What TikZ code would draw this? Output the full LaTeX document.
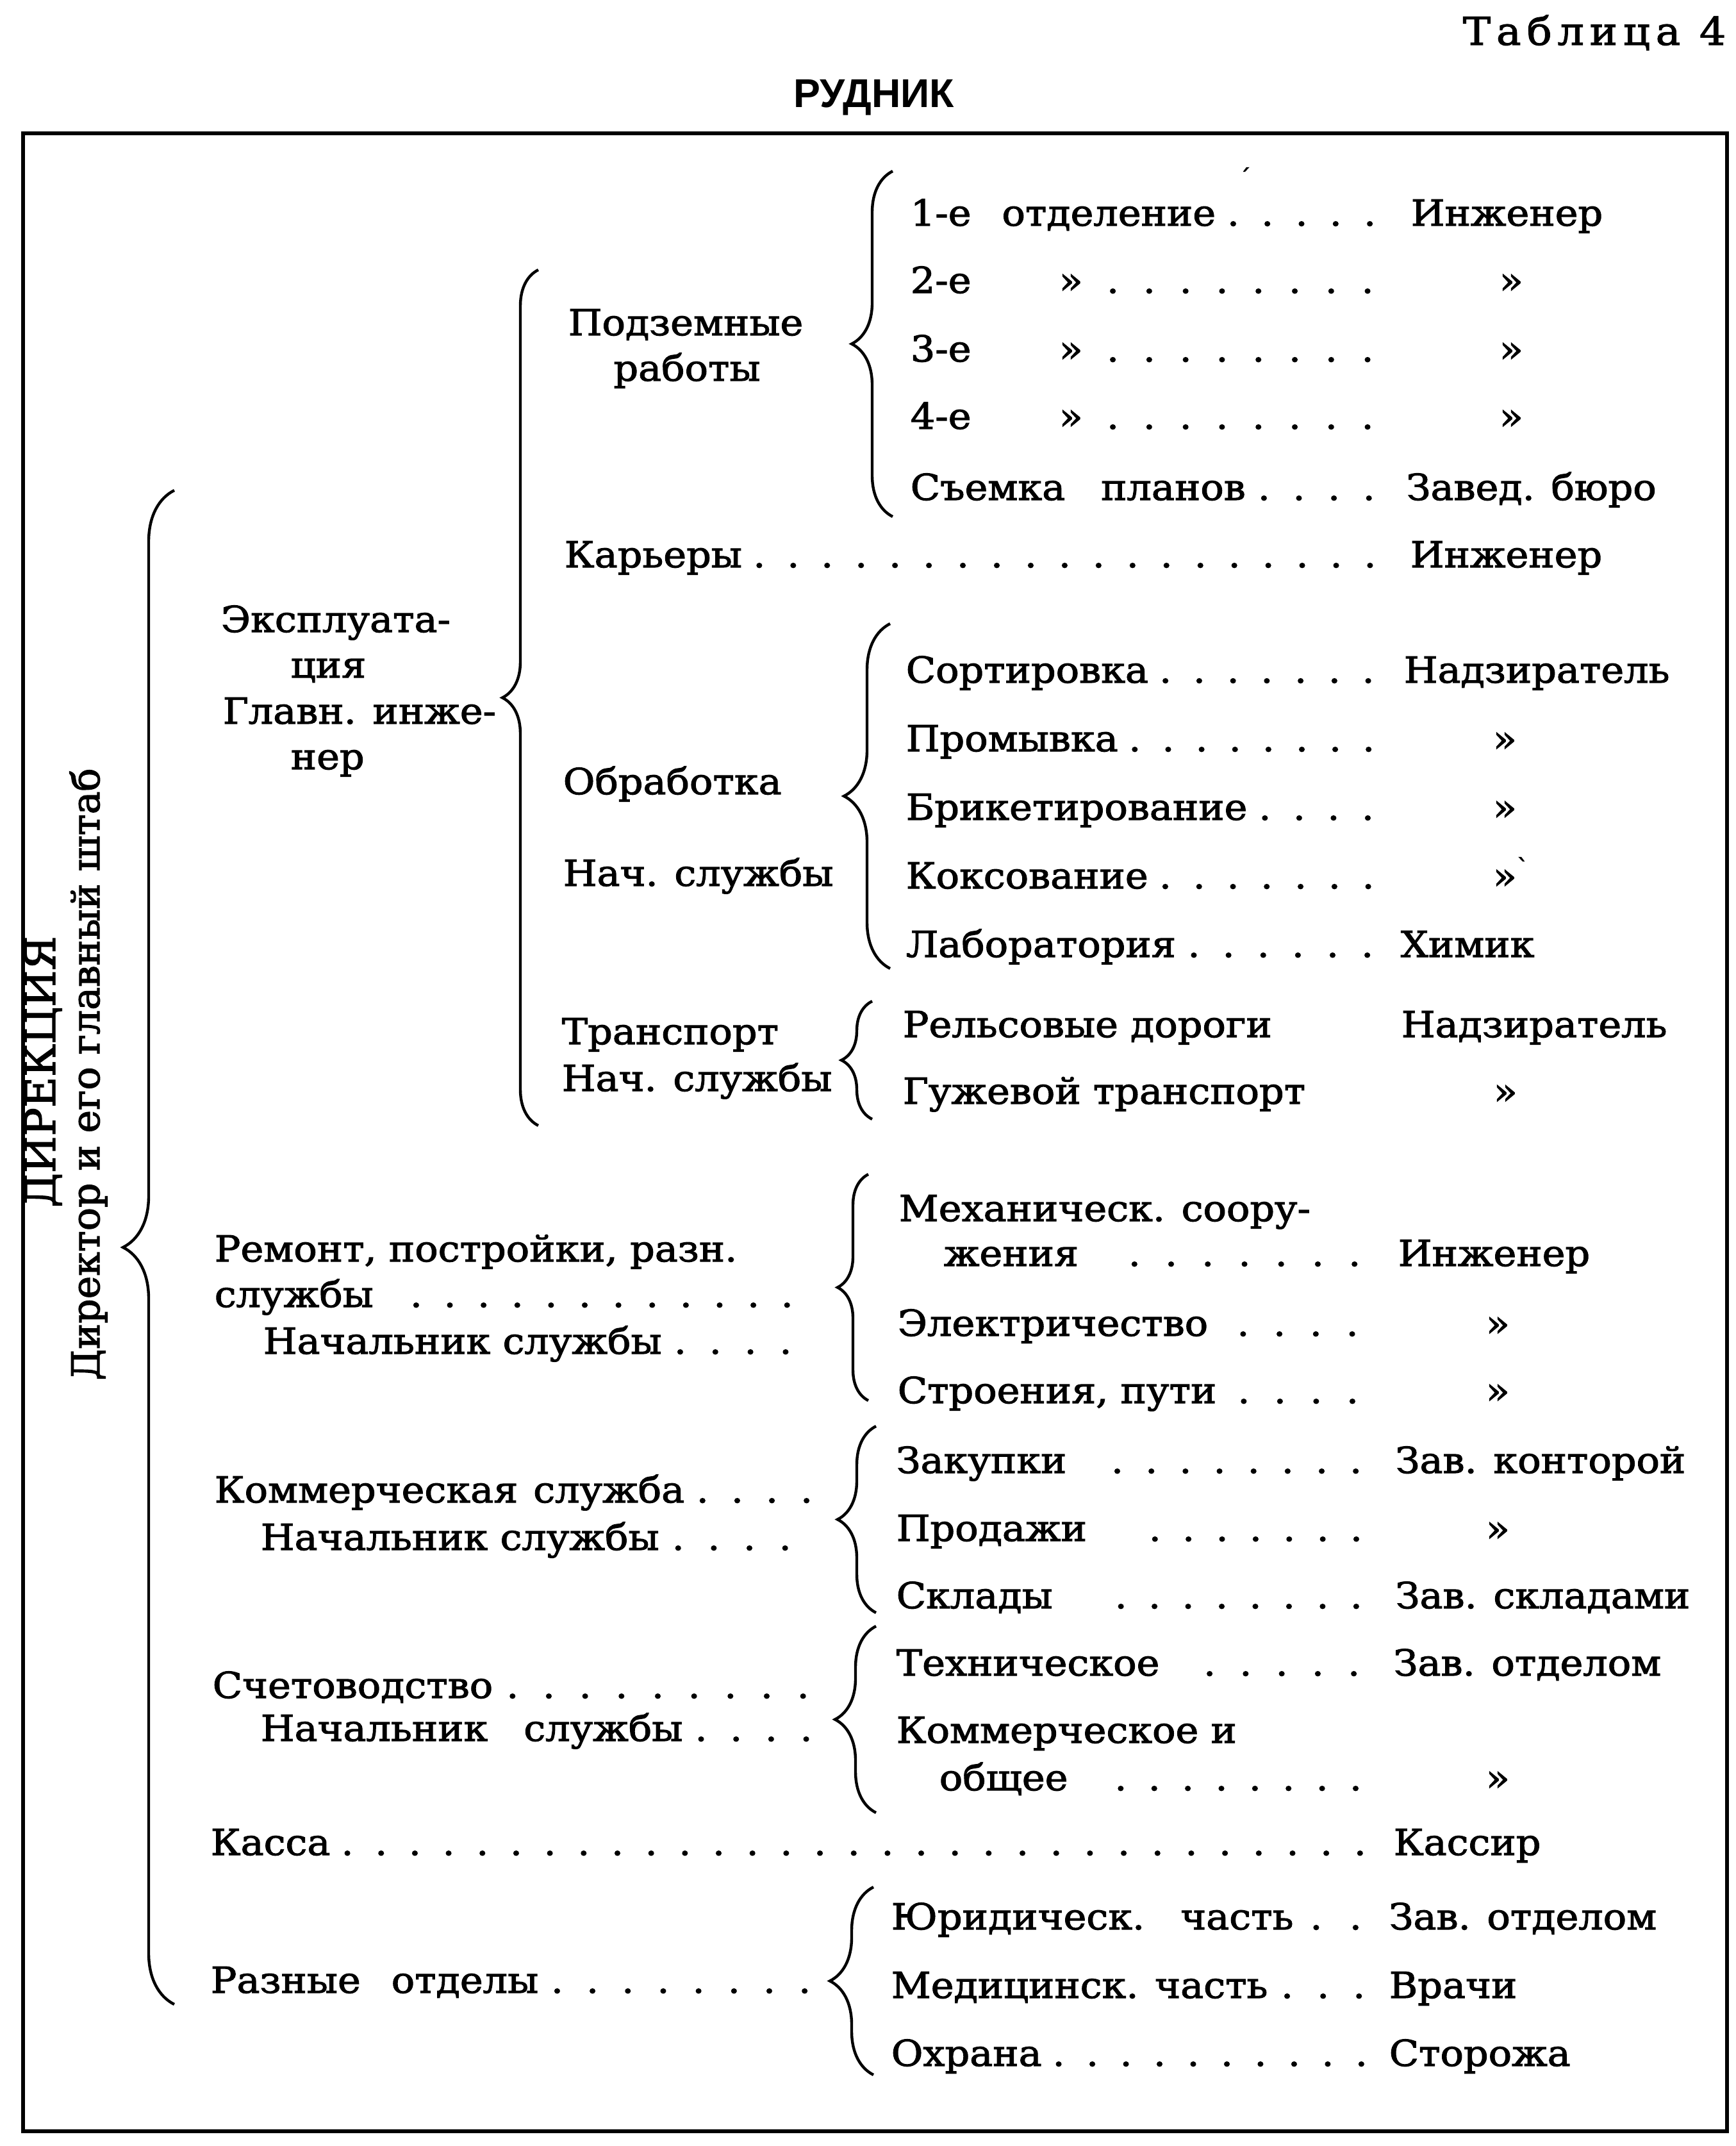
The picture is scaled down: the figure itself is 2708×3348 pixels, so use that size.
\documentclass[tikz,border=0pt]{standalone}
\usepackage{fontspec}
\setmainfont{DejaVu Serif}[FakeStretch=1.08, FakeBold=2.0]
\newfontfamily\sidefont{DejaVu Serif}[FakeBold=2.0]
\newfontfamily\headfont{Liberation Sans}
\usepackage{tikz}
\usetikzlibrary{decorations.pathreplacing}
\usetikzlibrary{positioning}

\newcommand{\lead}{\xleaders\hbox to 13pt{\hss.\hss}\hfill}
\newcommand{\dotrow}[2]{\hbox to #1{#2\lead}}

\begin{document}
\begin{tikzpicture}[x=0.25pt, y=-0.25pt,
        txt/.style={anchor=base west, inner sep=0pt, font=\fontsize{14}{17}\selectfont},
        mid/.style={anchor=base, inner sep=0pt, font=\fontsize{14}{17}\selectfont},
        brc/.style={decorate, decoration={brace, amplitude=#1}, line width=1.1pt},
        brc/.default=15pt]
    \useasboundingbox (0,0) rectangle (2708,3348);
    \draw[line width=1.5pt] (36,208) rectangle (2695,3325);

    \node[anchor=base east, inner sep=0pt, font=\fontsize{15}{18}\selectfont\addfontfeature{LetterSpace=15}] (tab) at (2694,70) {Таблица 4};
    \node[anchor=base, inner sep=0pt, font=\headfont\bfseries\fontsize{15.7}{18}\selectfont] (mine) at (1364,168) {РУДНИК};

    \node[rotate=90, anchor=base, inner sep=0pt, font=\sidefont\fontsize{16.5}{19}\selectfont] (dir) at (86,1672) {ДИРЕКЦИЯ};
    \node[rotate=90, anchor=base, inner sep=0pt, font=\sidefont\fontsize{15}{18}\selectfont] (staff) at (155,1676) {Директор и его главный штаб};

    \coordinate (allT) at (272,765);   \coordinate (allB) at (272,3127);
    \coordinate (expT) at (840,421);   \coordinate (expB) at (840,1756);
    \coordinate (podT) at (1393,267);  \coordinate (podB) at (1393,806);
    \coordinate (obrT) at (1389,973);  \coordinate (obrB) at (1389,1511);
    \coordinate (trT) at (1361,1562);  \coordinate (trB) at (1361,1746);
    \coordinate (remT) at (1355,1832); \coordinate (remB) at (1355,2185);
    \coordinate (comT) at (1367,2225); \coordinate (comB) at (1367,2516);
    \coordinate (accT) at (1367,2537); \coordinate (accB) at (1367,2828);
    \coordinate (varT) at (1363,2944); \coordinate (varB) at (1363,3237);
    \draw[brc=20pt] (allB) -- (allT);
    \draw[brc=14pt] (expB) -- (expT);
    \draw[brc=16pt] (podB) -- (podT);
    \draw[brc=18pt] (obrB) -- (obrT);
    \draw[brc=12pt] (trB) -- (trT);
    \draw[brc=12pt] (remB) -- (remT);
    \draw[brc=15pt] (comB) -- (comT);
    \draw[brc=16pt] (accB) -- (accT);
    \draw[brc=17pt] (varB) -- (varT);

    \node[txt] (exp1) at (344,986) {Эксплуата-};
    \node[txt] (exp2) at (453,1057) {ция};
    \node[txt] (exp3) at (347,1129) {Главн. инже-};
    \node[txt] (exp4) at (453,1200) {нер};

    \node[mid] (pod1) at (1070,523) {Подземные};
    \node[mid] (pod2) at (1072,594) {работы};
    \node[txt] (d1) at (1420,352) {\dotrow{186pt}{1-е\hspace{12pt}отделение}};
    \node[txt] (d2) at (1420,457) {\dotrow{186pt}{\makebox[58pt][l]{2-е}»\hspace{4pt}}};
    \node[txt] (d3) at (1420,564) {\dotrow{186pt}{\makebox[58pt][l]{3-е}»\hspace{4pt}}};
    \node[txt] (d4) at (1420,669) {\dotrow{186pt}{\makebox[58pt][l]{4-е}»\hspace{4pt}}};
    \node[txt] (d5) at (1420,780) {\dotrow{186pt}{Съемка\hspace{14pt}планов}};
    \node[txt] (e1) at (2201,352) {Инженер};
    \node[txt] (e2) at (2339,457) {»};
    \node[txt] (e3) at (2339,564) {»};
    \node[txt] (e4) at (2339,669) {»};
    \node[txt] (e5) at (2194,780) {Завед. бюро};
    \node[txt, font=\fontsize{9}{9}\selectfont] (spk1) at (1932,290) {\textasciiacute};

    \node[txt] (kar1) at (880,885) {\dotrow{321pt}{Карьеры}};
    \node[txt] (kar2) at (2200,885) {Инженер};

    \node[txt] (obr1) at (878,1239) {Обработка};
    \node[txt] (obr2) at (878,1382) {Нач. службы};
    \node[txt] (s1) at (1413,1065) {\dotrow{187pt}{Сортировка}};
    \node[txt] (s2) at (1413,1172) {\dotrow{187pt}{Промывка}};
    \node[txt] (s3) at (1413,1279) {\dotrow{187pt}{Брикетирование}};
    \node[txt] (s4) at (1413,1386) {\dotrow{187pt}{Коксование}};
    \node[txt] (s5) at (1413,1493) {\dotrow{187pt}{Лаборатория}};
    \node[txt] (h1) at (2190,1065) {Надзиратель};
    \node[txt] (h2) at (2329,1172) {»};
    \node[txt] (h3) at (2329,1279) {»};
    \node[txt] (h4) at (2329,1386) {»\raisebox{5pt}{\fontsize{9}{9}\selectfont\textasciigrave}};
    \node[txt] (h5) at (2185,1493) {Химик};

    \node[txt] (tr1) at (876,1629) {Транспорт};
    \node[txt] (tr2) at (876,1702) {Нач. службы};
    \node[txt] (t1) at (1408,1618) {Рельсовые дороги};
    \node[txt] (t2) at (1408,1722) {Гужевой транспорт};
    \node[txt] (u1) at (2186,1618) {Надзиратель};
    \node[txt] (u2) at (2330,1722) {»};

    \node[txt] (rem1) at (334,1968) {Ремонт, постройки, разн.};
    \node[txt] (rem2) at (334,2039) {\dotrow{230pt}{службы\hspace{10pt}}};
    \node[txt] (rem3) at (410,2112) {\dotrow{211pt}{Начальник службы}};
    \node[txt] (m1) at (1402,1905) {Механическ. соору-};
    \node[txt] (m2) at (1472,1975) {\dotrow{168pt}{жения\hspace{14pt}}};
    \node[txt] (m3) at (1400,2084) {\dotrow{185pt}{Электричество\hspace{6pt}}};
    \node[txt] (m4) at (1400,2189) {\dotrow{185pt}{Строения, пути\hspace{3pt}}};
    \node[txt] (n1) at (2181,1975) {Инженер};
    \node[txt] (n2) at (2318,2084) {»};
    \node[txt] (n3) at (2318,2189) {»};

    \node[txt] (com1) at (334,2344) {\dotrow{238pt}{Коммерческая\hspace{6pt}служба}};
    \node[txt] (com2) at (406,2418) {\dotrow{212pt}{Начальник службы}};
    \node[txt] (c1) at (1398,2298) {\dotrow{186pt}{Закупки\hspace{13pt}}};
    \node[txt] (c2) at (1398,2404) {\dotrow{186pt}{Продажи\hspace{20pt}}};
    \node[txt] (c3) at (1398,2509) {\dotrow{186pt}{Склады\hspace{20pt}}};
    \node[txt] (k1) at (2177,2298) {Зав. конторой};
    \node[txt] (k2) at (2318,2404) {»};
    \node[txt] (k3) at (2177,2509) {Зав. складами};

    \node[txt] (acc1) at (331,2649) {\dotrow{238pt}{Счетоводство}};
    \node[txt] (acc2) at (406,2716) {\dotrow{220pt}{Начальник\hspace{14pt}службы}};
    \node[txt] (a1) at (1398,2614) {\dotrow{186pt}{Техническое\hspace{12pt}}};
    \node[txt] (a2) at (1398,2719) {Коммерческое и};
    \node[txt] (a3) at (1465,2793) {\dotrow{169pt}{общее\hspace{14pt}}};
    \node[txt] (b1) at (2174,2614) {Зав. отделом};
    \node[txt] (b3) at (2318,2793) {»};

    \node[txt] (cash1) at (328,2894) {\dotrow{455pt}{Касса}};
    \node[txt] (cash2) at (2174,2894) {Кассир};

    \node[txt] (var1) at (328,3109) {\dotrow{239pt}{Разные\hspace{12pt}отделы}};
    \node[txt] (v1) at (1390,3010) {\dotrow{190pt}{Юридическ.\hspace{14pt}часть}};
    \node[txt] (v2) at (1390,3117) {\dotrow{190pt}{Медицинск. часть}};
    \node[txt] (v3) at (1390,3223) {\dotrow{190pt}{Охрана}};
    \node[txt] (w1) at (2167,3010) {Зав. отделом};
    \node[txt] (w2) at (2167,3117) {Врачи};
    \node[txt] (w3) at (2167,3223) {Сторожа};
\end{tikzpicture}
\end{document}
